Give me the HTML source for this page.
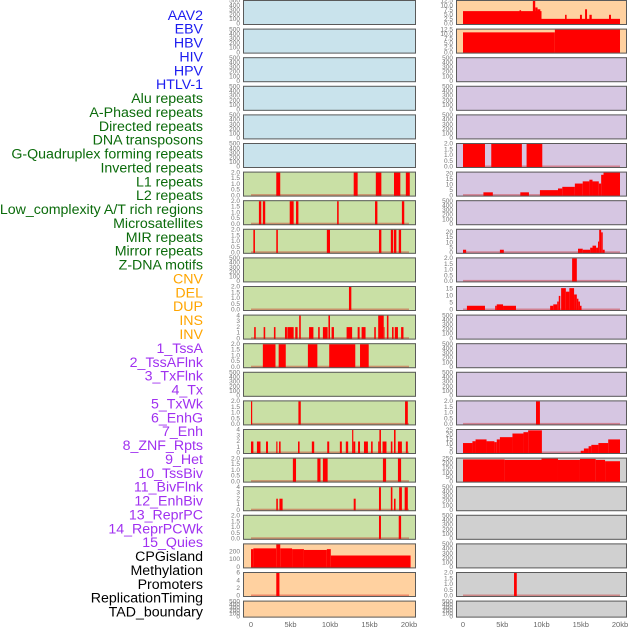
<!DOCTYPE html>
<html><head><meta charset="utf-8"><style>
html,body{margin:0;padding:0;background:#fff;}
svg{display:block;font-family:"Liberation Sans",sans-serif;}
</style></head><body>
<svg id="chart" width="630" height="630" viewBox="0 0 630 630" xmlns="http://www.w3.org/2000/svg">
<g id="labels"></g>
<g id="panels"></g>
<g id="xaxes"></g>
</svg>
<script>
const trackNames = ["AAV2","EBV","HBV","HIV","HPV","HTLV-1","Alu repeats","A-Phased repeats","Directed repeats","DNA transposons","G-Quadruplex forming repeats","Inverted repeats","L1 repeats","L2 repeats","Low_complexity A/T rich regions","Microsatellites","MIR repeats","Mirror repeats","Z-DNA motifs","CNV","DEL","DUP","INS","INV","1_TssA","2_TssAFlnk","3_TxFlnk","4_Tx","5_TxWk","6_EnhG","7_Enh","8_ZNF_Rpts","9_Het","10_TssBiv","11_BivFlnk","12_EnhBiv","13_ReprPC","14_ReprPCWk","15_Quies","CPGisland","Methylation","Promoters","ReplicationTiming","TAD_boundary"];
const trackGroups = [6,13,5,15,5];
const groupColors = ["#1c1cf0","#0b6b0b","#ffa500","#a030f0","#000000"];
const xTicks = [0,5,10,15,20];
const xTickLabels = ["0","5kb","10kb","15kb","20kb"];
const T500=[0,100,200,300,400,500], T2=[0,0.5,1,1.5,2], T4=[0,1,2,3,4];
const leftMax = [500,500,500,500,500,500,2,2,2,500,2,4,2,500,2,4,2,4,2,290,6,500];
const leftTicks = [T500,T500,T500,T500,T500,T500,T2,T2,T2,T500,T2,T4,T2,T500,T2,T4,T2,T4,T2,[0,100,200],[0,2,4,6],T500];
const leftSegs = [[],[],[],[],[],[],
[[3.2,3.7,2],[13.0,13.5,2],[15.8,16.5,2],[18.1,18.9,2],[19.6,20.1,2]],
[[1.0,1.3,2],[1.5,1.8,2],[4.9,5.4,2],[5.7,6.0,2],[10.9,11.1,2],[15.7,16.0,2],[19.1,19.4,2]],
[[0.3,0.5,2],[3.2,3.4,2],[9.6,10.0,2],[16.2,16.5,2],[17.7,18.0,2],[18.1,18.4,2],[18.7,19.0,2]],
[],
[[12.4,12.7,2]],
[[0.4,0.6,2],[1.6,1.8,2],[2.9,3.1,2],[4.3,4.55,2],[4.6,5.4,2],[5.6,5.9,2],[6.1,6.3,4],[7.35,7.9,2],[8.5,8.7,2],[9.1,9.7,2],[9.8,10.0,4],[10.2,10.5,2],[12.1,12.8,2],[13.5,13.75,2],[14.0,14.5,2],[15.6,15.8,2],[16.1,16.8,4],[16.8,16.9,2],[17.2,17.4,4],[17.85,18.05,2],[18.2,18.6,2],[19.0,19.3,2]],
[[1.5,3.1,2],[3.5,4.4,2],[7.2,8.4,2],[9.9,13.2,2],[13.8,14.9,2]],
[],
[[0,0.15,2],[6.0,6.3,2],[19.5,19.85,2]],
[[0,0.3,2],[0.75,1.2,2],[1.9,2.15,2],[3.2,3.35,2],[3.55,3.75,2],[5.95,6.15,2],[7.7,8.0,2],[9.65,9.9,2],[11.25,11.5,2],[12.0,12.3,2],[12.8,12.95,4],[12.95,13.2,2],[13.55,13.8,2],[14.3,14.8,2],[15.2,15.4,2],[16.1,16.25,2],[16.25,16.45,4],[16.65,17.15,2],[17.7,17.9,2],[18.1,18.3,4],[18.6,19.1,2],[19.6,19.85,2]],
[[5.3,5.7,2],[8.4,8.8,2],[9.1,9.7,2],[16.7,17.1,2],[18.6,19.0,2]],
[[3.2,3.4,2],[3.6,4.0,2],[13.0,13.25,2],[16.2,16.45,4],[17.7,17.9,4],[18.1,18.3,2],[18.75,19.1,4],[19.45,19.85,4]],
[[16.2,16.45,2],[18.7,19.0,2]],
[[0,0.3,230],[0.3,3.2,240],[3.2,3.7,300],[3.7,5.2,240],[5.2,6.7,230],[6.7,9.6,220],[9.6,10.1,230],[10.1,20.2,150]],
[[3.2,3.6,6]],
[]];
const rightMax = [12.5,12.5,500,500,500,2,21,500,22.5,2,16.3,500,500,500,2,25.4,254,500,500,500,2,500];
const rightTicks = [[0,2.5,5,7.5,10,12.5],[0,2.5,5,7.5,10,12.5],T500,T500,T500,T2,[0,5,10,15,20],T500,[0,5,10,15,20],T2,[0,5,10,15],T500,T500,T500,T2,[0,5,10,15,20,25],[0,50,100,150,200,250],T500,T500,T500,T2,T500];
const rightSegs = [
[[0,10.0,7],[7.2,7.4,7.5],[8.9,9.2,13],[9.2,9.5,9],[9.5,9.85,8],[10.0,20,2.8],[13.0,13.2,5],[14.9,15.15,5],[15.55,15.8,8],[16.1,16.4,5],[18.6,18.85,5]],
[[0,11.7,11],[11.7,20,12.6]],
[],[],[],
[[0,2.8,2],[3.6,7.5,2],[8.1,10.1,2]],
[[2.6,3.8,3],[7.3,8.4,3],[9.8,12.1,5],[12.1,12.65,6.5],[12.65,14.25,8],[14.25,15.25,11],[15.25,16.1,13],[16.1,16.5,14.5],[16.5,17.3,13],[17.3,17.6,11],[17.6,17.9,19],[17.9,20,21]],
[],
[[0,0.4,3],[4.7,5.2,3],[14.65,15.25,4],[15.25,16.2,3],[16.2,16.5,5],[16.5,16.95,7],[16.95,17.2,5],[17.2,17.35,11],[17.35,17.6,23],[17.6,17.8,20],[17.8,18.05,3]],
[[13.9,14.5,2]],
[[0.5,2.8,3],[4.1,4.3,3],[4.3,5.1,4],[5.1,6.75,3],[11.1,11.5,3],[11.5,12.0,4],[12.0,12.2,6],[12.2,12.4,10],[12.5,13.1,15.5],[13.1,13.55,13],[13.55,14.15,15.5],[14.15,14.5,11],[14.5,14.7,8],[14.7,14.9,6],[14.9,15.1,3]],
[],[],[],
[[9.3,9.8,2]],
[[0,1.2,11],[1.2,1.6,13],[1.6,3.0,15],[3.0,4.0,13],[4.0,4.3,12],[4.3,4.7,15],[4.7,6.3,17.5],[6.3,7.7,21.5],[7.7,8.3,23],[8.3,10.05,25],[15.0,15.4,2.5],[15.4,16.0,5],[16.0,16.35,7.5],[16.35,17.25,9],[17.25,18.5,11],[18.5,20,15]],
[[0,5.3,245],[5.3,10.0,240],[10.0,12.1,255],[12.1,14.9,240],[14.9,16.9,250],[16.9,18.1,240],[18.1,20,225]],
[],[],[],
[[6.5,6.85,2]],
[]];

const NS="http://www.w3.org/2000/svg";
function mk(tag,attrs,parent){const e=document.createElementNS(NS,tag);for(const k in attrs)e.setAttribute(k,attrs[k]);parent.appendChild(e);return e;}
const labelsG=document.getElementById('labels');
let idx=0;
trackGroups.forEach((n,g)=>{for(let i=0;i<n;i++){
  const t=mk('text',{x:203,y:16+idx*13.88,'text-anchor':'end','dominant-baseline':'middle','font-size':'14.2',fill:groupColors[g]},labelsG);
  t.textContent=trackNames[idx];
  
  
  idx++;}});

const panelsG=document.getElementById('panels');
const nRows=22;
const cols=[{x:243,w:173,x0:251,x20:409,tickX:240,bg:i=>i<6?'#c9e3ec':(i<19?'#c9e0a5':'#ffd1a0'),max:leftMax,ticks:leftTicks,segs:leftSegs,name:'left'},
            {x:456,w:171,x0:463,x20:620,tickX:453,bg:i=>i<2?'#ffd1a0':(i<16?'#d6c6e2':'#d0d0d0'),max:rightMax,ticks:rightTicks,segs:rightSegs,name:'right'}];
function fmt(v,ticks){const dec=ticks.some(t=>t%1!==0);return dec?v.toFixed(1):String(v);}
cols.forEach(c=>{
  const xs=kb=>c.x0+(kb/20)*(c.x20-c.x0);
  for(let r=0;r<nRows;r++){
    const top=r*28.6, H=(r===nRows-1)?17:25;
    const g=mk('g',{},panelsG);
    
    
    mk('rect',{x:c.x,y:top,width:c.w,height:H,fill:c.bg(r),stroke:'none'},g);
    const ymax=c.max[r];
    const y0=top+H-1, y1=top+1;
    const ys=v=>y0-(Math.min(v,ymax)/ymax)*(y0-y1);
    const segs=c.segs[r];
    if(segs.length){
      const bl=mk('rect',{x:xs(0),y:y0-1.5,width:xs(20)-xs(0),height:2,fill:'rgba(200,0,0,0.35)'},g);
      
      
    }
    segs.forEach(s=>{
      const b=mk('rect',{x:xs(s[0]),y:ys(s[2]),width:Math.max(0.8,xs(s[1])-xs(s[0])),height:y0-ys(s[2])+0.5,fill:'#ff0000'},g);
      
      
    });
    mk('rect',{x:c.x+0.5,y:top+0.5,width:c.w-1,height:H-1,fill:'none',stroke:'#5a5a5a','stroke-width':1},g);
    c.ticks[r].forEach(v=>{
      const t=mk('text',{x:c.tickX,y:ys(v),'text-anchor':'end','dominant-baseline':'middle','font-size':'6.5',fill:'#777'},g);
      t.textContent=fmt(v,c.ticks[r]);
      
      
    });
  }
  const xg=document.getElementById('xaxes');
  xTicks.forEach((k,i)=>{
    const t=mk('text',{x:xs(k),y:627,'text-anchor':'middle','font-size':'7.5',fill:'#666'},xg);
    t.textContent=xTickLabels[i];
    
    
  });
});
</script>
</body></html>
